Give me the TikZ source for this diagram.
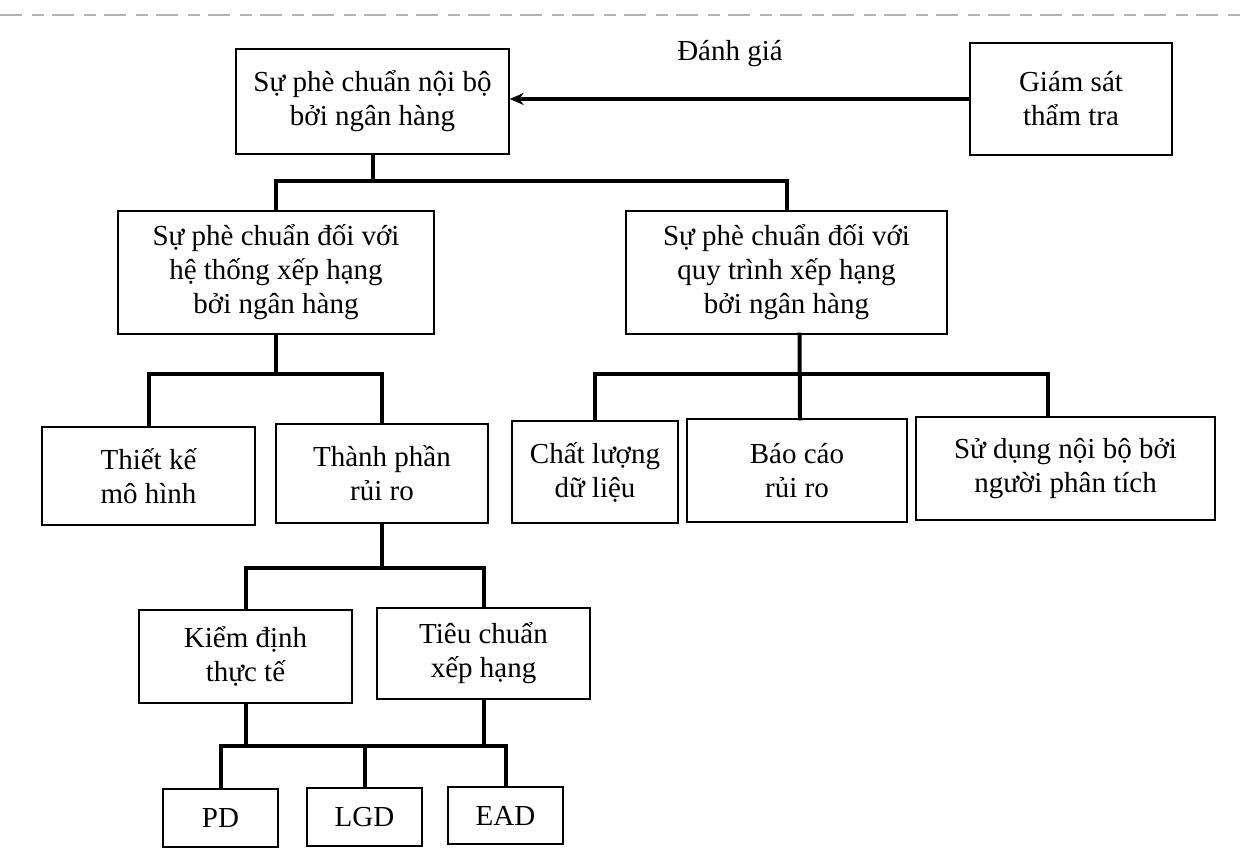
\documentclass[tikz,border=0pt]{standalone}
\usepackage{fontspec}
\setmainfont{Liberation Serif}
\usetikzlibrary{arrows.meta}
\begin{document}
\begin{tikzpicture}[x=0.5pt,y=-0.5pt,
  box/.style={draw,line width=0.7pt,align=center,inner sep=0pt,
    font=\fontsize{14.5pt}{17pt}\selectfont},
  conn/.style={line width=2pt,line cap=rect},
  arr/.style={line width=1.8pt,-{Stealth[length=7pt,width=6pt]}},
  lbl/.style={font=\fontsize{14.5pt}{17pt}\selectfont}]
\useasboundingbox (0,0) rectangle (1244,866);
\fill[white] (0,0) rectangle (1244,866);
% scan rule at the top
\coordinate (r1) at (0,15);
\coordinate (r2) at (1244,15);
\draw[gray!60,line width=0.6pt,dash pattern=on 11pt off 5pt on 6pt off 4pt] (r1) -- (r2);
% nodes
\node[box,minimum width=136.5pt,minimum height=52.5pt] (A) at (372.5,101.5) {Sự phè chuẩn nội bộ\\bởi ngân hàng};
\node[box,minimum width=101pt,minimum height=56pt] (G) at (1071,99) {Giám sát\\thẩm tra};
\node[lbl] (dg) at (730,54) {Đánh giá};
\node[box,minimum width=158pt,minimum height=61.5pt] (B) at (276,272.5) {Sự phè chuẩn đối với\\hệ thống xếp hạng\\bởi ngân hàng};
\node[box,minimum width=160.5pt,minimum height=61.5pt] (C) at (786.5,272.5) {Sự phè chuẩn đối với\\quy trình xếp hạng\\bởi ngân hàng};
\node[box,minimum width=106.5pt,minimum height=49pt] (TK) at (148.5,476) {Thiết kế\\mô hình};
\node[box,minimum width=106pt,minimum height=49.5pt] (TP) at (382,473.5) {Thành phần\\rủi ro};
\node[box,minimum width=83pt,minimum height=51pt] (CL) at (595,472) {Chất lượng\\dữ liệu};
\node[box,minimum width=110pt,minimum height=51.5pt] (BC) at (797,470.5) {Báo cáo\\rủi ro};
\node[box,minimum width=149.5pt,minimum height=51.5pt] (SD) at (1065.5,468.5) {Sử dụng nội bộ bởi\\người phân tích};
\node[box,minimum width=106.5pt,minimum height=46.5pt] (KD) at (245.5,656.5) {Kiểm định\\thực tế};
\node[box,minimum width=106.5pt,minimum height=45.5pt] (TC) at (483.5,653.5) {Tiêu chuẩn\\xếp hạng};
\node[box,minimum width=57.5pt,minimum height=29pt] (PD) at (220.5,818) {PD};
\node[box,minimum width=57.5pt,minimum height=29pt] (LGD) at (364.5,817) {LGD};
\node[box,minimum width=57.5pt,minimum height=28.5pt] (EAD) at (505.5,815.5) {EAD};
% junction levels
\coordinate (j1) at (0,181);
\coordinate (j2) at (0,374);
\coordinate (j3) at (0,374);
\coordinate (j4) at (0,568);
\coordinate (j5) at (0,746);
% connectors
\draw[arr] (G.west) -- (G.west -| A.east);
\draw[conn] (A.south) -- (A.south |- j1);
\draw[conn] (B.north) -- (B.north |- j1) -- (C.north |- j1) -- (C.north);
\draw[conn] (B.south) -- (B.south |- j2);
\draw[conn] (TK.north) -- (TK.north |- j2) -- (TP.north |- j2) -- (TP.north);
\draw[conn] ([xshift=6.5pt]C.south) -- ([xshift=1.5pt]BC.north);
\draw[conn] (CL.north) -- (CL.north |- j3) -- ([xshift=-9pt]SD.north |- j3) -- ([xshift=-9pt]SD.north);
\draw[conn] (TP.south) -- (TP.south |- j4);
\draw[conn] (KD.north) -- (KD.north |- j4) -- (TC.north |- j4) -- (TC.north);
\draw[conn] (KD.south) -- (KD.south |- j5);
\draw[conn] (TC.south) -- (TC.south |- j5);
\draw[conn] (PD.north) -- (PD.north |- j5) -- (EAD.north |- j5) -- (EAD.north);
\draw[conn] (LGD.north) -- (LGD.north |- j5);
\end{tikzpicture}
\end{document}
